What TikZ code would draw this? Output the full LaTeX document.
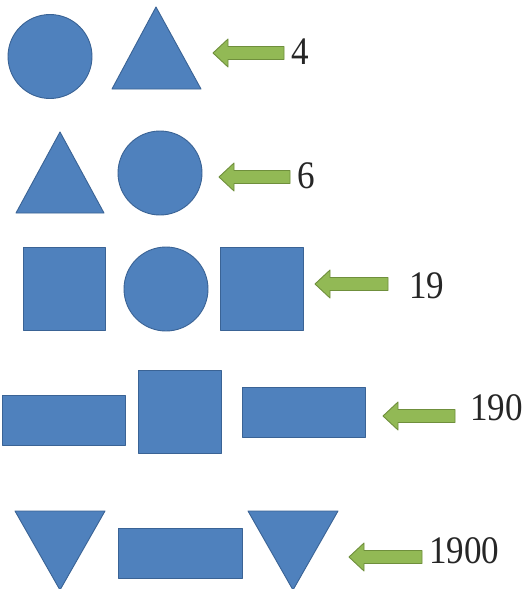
\documentclass[tikz,border=0pt]{standalone}
\usepackage{fontspec}
\setmainfont{Liberation Serif}
\newfontfamily\numfont{Liberation Serif}
\definecolor{shapeblue}{HTML}{4F81BD}
\definecolor{shapeedge}{HTML}{3A6395}
\definecolor{arrgreen}{HTML}{92B955}
\definecolor{arredge}{HTML}{6F8F3C}
\newcommand\leftblockarrow[3]{%
  \draw[garr] (#1,#3) -- (#1+15,#3-14) -- (#1+15,#3-6.5) -- (#2,#3-6.5)
    -- (#2,#3+6.5) -- (#1+15,#3+6.5) -- (#1+15,#3+14) -- cycle;}
\newcommand\numtext[1]{\scalebox{0.9}[1]{#1}}
\begin{document}
\begin{tikzpicture}[x=1pt,y=-1pt,
  shp/.style={fill=shapeblue,draw=shapeedge,line width=0.9pt,line join=round},
  circ/.style={shp,circle,inner sep=0pt,minimum size=84pt},
  box/.style={shp,rectangle,inner sep=0pt},
  garr/.style={fill=arrgreen,draw=arredge,line width=0.9pt,line join=round},
  num/.style={anchor=base west,inner sep=0pt,font=\numfont\fontsize{39}{44}\selectfont,text=black!85}]
\useasboundingbox (0,0) rectangle (524,589);
\fill[white] (0,0) rectangle (524,589);
% row 1
\node[circ] (c1) at (50,56.5) {};
\draw[shp] (112,89) -- (201,89) -- (156,7) -- cycle;
\leftblockarrow{213}{284}{53}
\node[num] (n4) at (291,64) {\numtext{4}};
% row 2
\draw[shp] (16,213) -- (104,213) -- (60,132) -- cycle;
\node[circ] (c2) at (160,173) {};
\leftblockarrow{219}{290}{177}
\node[num] (n6) at (297,188) {\numtext{6}};
% row 3
\node[box,minimum width=82pt,minimum height=83pt] (s1) at (64,288.5) {};
\node[circ] (c3) at (166,289) {};
\node[box,minimum width=83pt,minimum height=83pt] (s2) at (261.5,288.5) {};
\leftblockarrow{315}{388}{284}
\node[num] (n19) at (409,298) {\numtext{19}};
% row 4
\node[box,minimum width=123pt,minimum height=50pt] (r1) at (63.5,420) {};
\node[box,minimum width=83pt,minimum height=83pt] (s3) at (179.5,411.5) {};
\node[box,minimum width=123pt,minimum height=50pt] (r2) at (303.5,412) {};
\leftblockarrow{383}{455}{416}
\node[num] (n190) at (470,420) {\numtext{190}};
% row 5
\draw[shp] (15,511) -- (105,511) -- (60,590) -- cycle;
\node[box,minimum width=124pt,minimum height=50pt] (r3) at (180,553) {};
\draw[shp] (248,511) -- (338,511) -- (293,590) -- cycle;
\leftblockarrow{349}{422}{557}
\node[num] (n1900) at (429,563) {\numtext{1900}};
\end{tikzpicture}
\end{document}
